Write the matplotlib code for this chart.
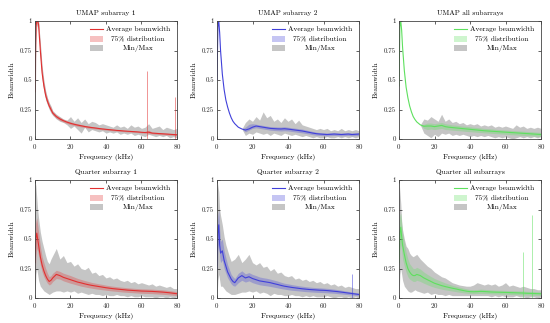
import numpy as np
import matplotlib
matplotlib.use("Agg")
import matplotlib.pyplot as plt
from matplotlib.patches import Rectangle

plt.rcParams['font.family'] = 'serif'
plt.rcParams['font.serif'] = ['cmr10', 'DejaVu Serif']
plt.rcParams['mathtext.fontset'] = 'cm'
plt.rcParams['axes.formatter.use_mathtext'] = True

# frequency grid (kHz)
freq = [0, 0.5, 1, 1.5, 2, 3, 4, 5, 6, 7, 8, 9, 10,
        12, 14, 16, 18, 20, 22, 24, 26, 28, 30, 32, 34, 36, 38, 40, 42, 44, 46,
        48, 50, 52, 54, 56, 58, 60, 62, 64, 66, 68, 70, 72, 74, 76, 78, 80]

# ---- UMAP subarray 1 ----
u1_avg = [.40, .95, 1.0, 1.0, .97, .75, .56, .45, .37, .32, .28, .25, .22,
          .19, .17, .155, .143, .133, .125, .118, .112, .106, .101, .097, .093, .089, .085, .082, .079, .076, .073,
          .071, .068, .066, .064, .062, .060, .057, .055, .058, .050, .048, .046, .044, .042, .040, .038, .036]
u1_lo = [.0, .85, .97, .98, .93, .70, .52, .42, .34, .295, .26, .23, .205,
         .176, .157, .143, .132, .122, .115, .108, .102, .097, .092, .088, .085, .081, .078, .075, .072, .069, .067,
         .064, .062, .060, .058, .056, .054, .051, .049, .045, .043, .040, .038, .036, .034, .032, .030, .028]
u1_hi = [1.0, 1.0, 1.0, 1.0, 1.0, .80, .60, .48, .40, .345, .30, .27, .235,
         .205, .185, .168, .155, .145, .136, .129, .122, .116, .110, .106, .101, .097, .093, .089, .086, .083, .080,
         .077, .074, .072, .070, .068, .066, .063, .061, .075, .058, .056, .054, .051, .049, .047, .045, .044]
u1_min = [0, .80, .95, .97, .92, .68, .50, .40, .33, .29, .25, .22, .20,
          .17, .15, .14, .12, .09, .11, .08, .05, .10, .06, .08, .07, .06, .07, .05, .06, .05, .06,
          .04, .05, .04, .05, .03, .04, .03, .02, .04, .03, .02, .03, .02, .03, .01, .02, .01]
u1_max = [1.0, 1.0, 1.0, 1.0, 1.0, .82, .62, .50, .41, .35, .31, .28, .24,
          .21, .19, .17, .16, .19, .15, .18, .14, .17, .13, .15, .14, .12, .13, .12, .11, .10, .12,
          .10, .11, .09, .12, .10, .11, .09, .10, .13, .09, .10, .11, .08, .10, .09, .08, .09]
u1_spike_f = [63, 79]
u1_spike_v = [0.58, 0.36]

# ---- UMAP subarray 2 ----
u2_avg = [.50, .95, 1.0, .90, .75, .55, .42, .33, .27, .22, .18, .15, .13,
          .10, .085, .076, .085, .10, .11, .105, .10, .095, .09, .088, .086, .085, .087, .084, .08, .076, .072,
          .068, .062, .056, .05, .045, .042, .04, .038, .04, .042, .04, .038, .04, .042, .038, .04, .042]
u2_lo = [.50, .95, 1.0, .90, .75, .55, .42, .33, .27, .22, .18, .15, .13,
         .10, .085, .06, .075, .09, .095, .09, .085, .08, .075, .072, .07, .068, .07, .068, .064, .06, .056,
         .052, .047, .042, .036, .032, .03, .028, .026, .028, .03, .028, .026, .028, .03, .026, .028, .03]
u2_hi = [.50, .95, 1.0, .90, .75, .55, .42, .33, .27, .22, .18, .15, .13,
         .10, .085, .10, .125, .13, .125, .12, .115, .11, .105, .104, .102, .102, .104, .10, .096, .092, .088,
         .084, .077, .07, .064, .058, .054, .052, .05, .052, .054, .052, .05, .052, .054, .05, .052, .054]
u2_min = [.50, .95, 1.0, .90, .75, .55, .42, .33, .27, .22, .18, .15, .13,
          .10, .085, .03, .05, .04, .06, .05, .04, .05, .03, .05, .04, .03, .05, .04, .03, .04, .03,
          .02, .03, .02, .01, .02, .01, .01, .02, .01, .01, .02, .01, .02, .01, .02, .01, .02]
u2_max = [.50, .95, 1.0, .90, .75, .55, .42, .33, .27, .22, .18, .15, .13,
          .10, .085, .14, .17, .15, .19, .16, .23, .18, .20, .15, .17, .14, .18, .15, .17, .13, .16,
          .12, .11, .10, .09, .08, .09, .08, .09, .07, .08, .07, .09, .07, .08, .07, .08, .07]

# ---- UMAP all subarrays ----
ua_avg = [.45, .95, 1.0, .92, .78, .58, .44, .35, .28, .23, .19, .165, .145,
          .12, .108, .11, .11, .105, .11, .115, .105, .10, .097, .094, .091, .088, .085, .082, .079, .076, .073,
          .07, .068, .066, .064, .062, .06, .058, .056, .054, .052, .05, .048, .046, .044, .042, .04, .038]
ua_lo = [.45, .95, 1.0, .92, .78, .58, .44, .35, .28, .23, .19, .165, .145,
         .12, .09, .08, .085, .08, .085, .09, .08, .078, .075, .072, .07, .067, .064, .062, .06, .057, .055,
         .052, .05, .048, .046, .044, .042, .04, .038, .036, .034, .032, .03, .028, .027, .025, .023, .022]
ua_hi = [.45, .95, 1.0, .92, .78, .58, .44, .35, .28, .23, .19, .165, .145,
         .12, .125, .135, .135, .13, .135, .14, .13, .125, .12, .117, .113, .11, .107, .104, .10, .097, .094,
         .09, .088, .086, .083, .08, .078, .076, .074, .072, .07, .068, .066, .064, .062, .06, .058, .056]
ua_min = [.45, .95, 1.0, .92, .78, .58, .44, .35, .28, .23, .19, .165, .145,
          .12, .05, .03, .01, .04, .02, .05, .04, .05, .03, .04, .03, .04, .03, .02, .03, .02, .03,
          .02, .03, .02, .01, .02, .01, .02, .01, .0, .01, .02, .01, .02, .01, .02, .01, .02]
ua_max = [.45, .95, 1.0, .92, .78, .58, .44, .35, .28, .23, .19, .165, .145,
          .12, .17, .16, .19, .17, .15, .21, .15, .17, .14, .15, .13, .14, .12, .13, .12, .13, .11,
          .12, .11, .12, .10, .11, .10, .11, .10, .09, .12, .10, .11, .09, .10, .09, .10, .09]

# ---- Quarter subarray 1 ----
q1_avg = [.30, .50, .55, .50, .45, .35, .28, .23, .19, .16, .14, .15, .17,
          .20, .19, .175, .165, .155, .145, .135, .128, .12, .113, .107, .102, .097, .092, .087, .083, .079, .076,
          .073, .07, .067, .065, .063, .061, .059, .058, .057, .056, .054, .052, .05, .047, .044, .04, .036]
q1_lo = [.10, .35, .42, .40, .36, .28, .22, .18, .15, .125, .11, .12, .14,
         .165, .16, .145, .135, .125, .117, .108, .10, .094, .088, .083, .078, .074, .07, .066, .062, .059, .056,
         .053, .05, .048, .046, .044, .042, .04, .039, .038, .037, .035, .033, .031, .029, .026, .023, .02]
q1_hi = [.60, .65, .68, .62, .56, .44, .35, .30, .25, .21, .18, .19, .21,
         .235, .225, .21, .20, .19, .178, .166, .157, .148, .14, .132, .126, .12, .115, .109, .104, .10, .096,
         .093, .09, .087, .084, .082, .08, .078, .077, .076, .075, .073, .071, .069, .066, .062, .058, .053]
q1_min = [0, .20, .25, .20, .15, .10, .08, .06, .05, .04, .03, .04, .05,
          .06, .06, .05, .06, .05, .06, .04, .05, .04, .03, .04, .03, .03, .02, .03, .02, .02, .03,
          .02, .02, .01, .02, .01, .01, .02, .01, .01, .01, .0, .01, .01, .0, .01, .0, .01]
q1_max = [1.0, .95, .85, .75, .68, .56, .48, .42, .36, .31, .29, .33, .36,
          .42, .33, .36, .30, .31, .27, .29, .25, .24, .26, .21, .22, .19, .20, .17, .18, .16, .17,
          .15, .14, .15, .13, .14, .12, .13, .12, .11, .12, .10, .11, .10, .09, .10, .08, .08]

# ---- Quarter subarray 2 ----
q2_avg = [.25, .55, .62, .45, .38, .40, .32, .27, .22, .19, .16, .14, .13,
          .17, .19, .17, .18, .165, .155, .145, .14, .135, .13, .122, .115, .107, .10, .095, .09, .086, .082,
          .078, .075, .072, .07, .068, .066, .065, .063, .06, .057, .054, .05, .046, .042, .038, .034, .03]
q2_lo = [.10, .40, .48, .35, .30, .32, .25, .21, .17, .145, .12, .105, .10,
         .13, .15, .135, .145, .13, .12, .112, .107, .103, .098, .092, .086, .08, .075, .07, .066, .063, .06,
         .057, .054, .052, .05, .048, .047, .046, .044, .042, .04, .037, .034, .031, .028, .025, .022, .018]
q2_hi = [.60, .70, .75, .58, .48, .50, .40, .34, .28, .24, .20, .18, .165,
         .21, .23, .205, .215, .20, .19, .178, .172, .167, .16, .152, .144, .134, .125, .12, .114, .109, .104,
         .10, .096, .093, .09, .088, .086, .084, .082, .079, .075, .071, .066, .061, .056, .051, .046, .042]
q2_min = [0, .15, .20, .15, .10, .10, .08, .06, .05, .04, .03, .03, .03,
          .04, .05, .05, .06, .05, .06, .04, .05, .04, .02, .04, .03, .03, .02, .02, .03, .02, .02,
          .01, .02, .01, .02, .01, .01, .01, .02, .01, .0, .01, .01, .0, .01, .0, .01, .0]
q2_max = [1.0, .95, .90, .75, .70, .62, .52, .45, .40, .35, .31, .32, .33,
          .37, .30, .33, .37, .30, .28, .30, .26, .27, .23, .25, .21, .22, .19, .18, .19, .16, .17,
          .15, .16, .14, .15, .13, .14, .12, .13, .11, .12, .10, .11, .09, .10, .09, .08, .08]
q2_spike_f = [76]
q2_spike_v = [0.20]

# ---- Quarter all subarrays ----
qa_avg = [.30, .55, .60, .52, .45, .37, .30, .25, .22, .20, .19, .19, .20,
          .19, .17, .155, .14, .125, .115, .105, .097, .09, .083, .077, .07, .064, .058, .054, .053, .054, .056,
          .055, .053, .051, .05, .049, .048, .047, .046, .045, .044, .043, .042, .04, .039, .038, .037, .036]
qa_lo = [.10, .40, .45, .40, .33, .27, .22, .18, .16, .15, .14, .14, .15,
         .14, .125, .112, .10, .09, .082, .075, .069, .064, .059, .054, .049, .045, .041, .038, .037, .038, .039,
         .038, .037, .035, .034, .033, .032, .031, .03, .029, .028, .027, .026, .025, .024, .023, .022, .021]
qa_hi = [.65, .70, .72, .64, .55, .47, .39, .33, .29, .27, .25, .25, .26,
         .245, .22, .20, .182, .165, .152, .14, .128, .118, .108, .10, .092, .085, .078, .072, .071, .072, .075,
         .073, .071, .069, .067, .066, .065, .064, .063, .062, .061, .06, .059, .057, .056, .055, .053, .052]
qa_min = [0, .20, .25, .20, .15, .10, .08, .06, .05, .05, .06, .07, .06,
          .05, .04, .05, .03, .04, .03, .03, .02, .03, .02, .02, .02, .02, .02, .02, .02, .02, .02,
          .02, .02, .01, .02, .01, .02, .01, .01, .01, .02, .01, .01, .0, .01, .01, .0, .01]
qa_max = [1.0, .90, .80, .65, .58, .50, .44, .42, .38, .36, .35, .36, .37,
          .33, .30, .27, .25, .22, .20, .18, .17, .15, .13, .12, .11, .105, .10, .10, .11, .13, .12,
          .11, .12, .11, .12, .10, .11, .13, .10, .11, .10, .09, .10, .09, .08, .08, .07, .07]
qa_spike_f = [70, 75]
qa_spike_v = [0.39, 0.70]

titles = ["UMAP subarray 1", "UMAP subarray 2", "UMAP all subarrays",
          "Quarter subarray 1", "Quarter subarray 2", "Quarter all subarrays"]
legend_labels = ["Average beamwidth", "75% distribution", "Min/Max"]

red = '#e23030'
blue = '#4040da'
green = '#5ee05e'

panels = [
    (u1_avg, u1_lo, u1_hi, u1_min, u1_max, red, u1_spike_f, u1_spike_v),
    (u2_avg, u2_lo, u2_hi, u2_min, u2_max, blue, [], []),
    (ua_avg, ua_lo, ua_hi, ua_min, ua_max, green, [], []),
    (q1_avg, q1_lo, q1_hi, q1_min, q1_max, red, [], []),
    (q2_avg, q2_lo, q2_hi, q2_min, q2_max, blue, q2_spike_f, q2_spike_v),
    (qa_avg, qa_lo, qa_hi, qa_min, qa_max, green, qa_spike_f, qa_spike_v),
]

fig = plt.figure(figsize=(5.5, 3.23), dpi=100)
lefts = [35 / 550, 217 / 550, 399 / 550]
bottoms = [1 - 139 / 323, 1 - 298 / 323]
w = 142 / 550
h = 118 / 323

gray = (0.5, 0.5, 0.5)
ga = 0.45   # min/max alpha
ca = 0.3    # 75% band alpha
fs = 5.3

for i, (avg, lo, hi, mn, mx, col, sf, sv) in enumerate(panels):
    ax = fig.add_axes([lefts[i % 3], bottoms[i // 3], w, h])
    ax.fill_between(freq, mn, mx, color=gray, alpha=ga, lw=0)
    ax.fill_between(freq, lo, hi, color=col, alpha=ca, lw=0)
    if sf:
        ax.vlines(sf, 0, sv, color=col, alpha=0.6, lw=0.6)
    ax.plot(freq, avg, color=col, lw=0.8)

    ax.set_xlim(0, 80)
    ax.set_ylim(0, 1)
    ax.set_xticks([0, 20, 40, 60, 80])
    ax.set_yticks([0, 0.25, 0.5, 0.75, 1])
    ax.set_yticklabels(["0", "0.25", "0.5", "0.75", "1"])
    ax.tick_params(labelsize=5, direction='in', length=2.2, width=0.5,
                   top=True, right=True, pad=2, colors='#222222')
    for s in ax.spines.values():
        s.set_linewidth(0.6)
        s.set_color('#444444')
    ax.set_title(titles[i], fontsize=fs, pad=4)
    ax.set_xlabel("Frequency (kHz)", fontsize=fs, labelpad=2)
    ax.set_ylabel("Beamwidth", fontsize=fs, labelpad=4)

    # legend drawn in axes coordinates, labels centred like pgfplots
    rows = [0.93, 0.85, 0.77]
    hx0, hx1 = 0.39, 0.48
    tx = 0.725
    ax.plot([hx0, hx1], [rows[0], rows[0]], color=col, lw=0.8,
            transform=ax.transAxes, clip_on=False)
    ax.add_patch(Rectangle((hx0, rows[1] - 0.025), hx1 - hx0, 0.05, transform=ax.transAxes,
                           facecolor=col, alpha=ca, lw=0))
    ax.add_patch(Rectangle((hx0, rows[2] - 0.025), hx1 - hx0, 0.05, transform=ax.transAxes,
                           facecolor=gray, alpha=ga, lw=0))
    for r, lab in zip(rows, legend_labels):
        ax.text(tx, r, lab, transform=ax.transAxes, ha='center', va='center',
                fontsize=fs)

fig.savefig("out.png", dpi=100)
